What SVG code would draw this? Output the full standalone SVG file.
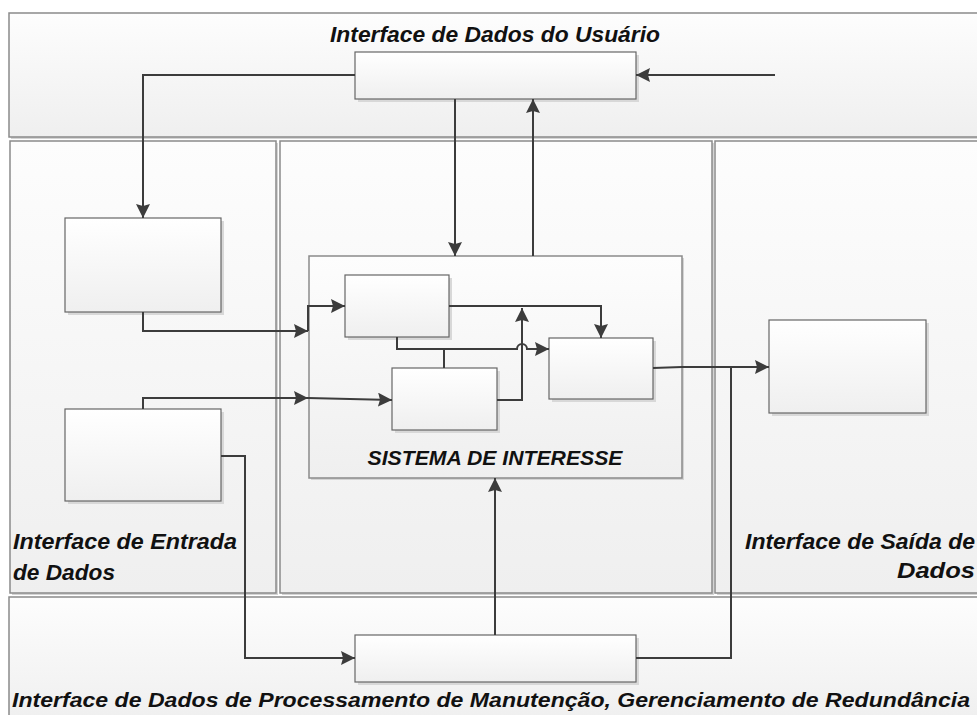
<svg xmlns="http://www.w3.org/2000/svg" width="977" height="715" viewBox="0 0 977 715">
<style>
.panel{stroke:#8a8a8a;stroke-width:1.5;fill:url(#pg)}
.pshadow{fill:#d4d4d4}
.box{stroke:#666;stroke-width:1.2;fill:url(#bg)}
.bshadow{fill:#d8d8d8}
.conn{fill:none;stroke:#3c3c3c;stroke-width:2}
.arr{marker-end:url(#ah)}
.lbl{font-family:"Liberation Sans",Arial,sans-serif;font-weight:bold;font-style:italic;font-size:22px;fill:#111}
</style>
<defs>
<linearGradient id="pg" x1="0" y1="0" x2="0" y2="1">
<stop offset="0" stop-color="#fdfdfd"/><stop offset="1" stop-color="#efefef"/>
</linearGradient>
<linearGradient id="bg" x1="0" y1="0" x2="0" y2="1">
<stop offset="0" stop-color="#ffffff"/><stop offset="1" stop-color="#efefef"/>
</linearGradient>
<marker id="ah" markerUnits="userSpaceOnUse" viewBox="0 0 14 14" markerWidth="14" markerHeight="14" refX="14" refY="7" orient="auto">
<path d="M0,0 L14,7 L0,14 L2,7 z" fill="#3c3c3c"/>
</marker>
</defs>
<rect width="977" height="715" fill="#ffffff"/>
<g id="panel-top">
<rect class="pshadow" x="11" y="15" width="980" height="124"/>
<rect class="panel" x="9" y="13" width="980" height="124"/>
<text class="lbl" x="495" y="42" text-anchor="middle" textLength="330" lengthAdjust="spacingAndGlyphs">Interface de Dados do Usuário</text>
</g>
<g id="panel-left">
<rect class="pshadow" x="12" y="143" width="266" height="452"/>
<rect class="panel" x="10" y="141" width="266" height="452"/>
<text class="lbl" x="13" y="549" textLength="224" lengthAdjust="spacingAndGlyphs">Interface de Entrada</text>
<text class="lbl" x="13" y="580" textLength="102" lengthAdjust="spacingAndGlyphs">de Dados</text>
</g>
<g id="panel-middle">
<rect class="pshadow" x="282" y="143" width="432" height="452"/>
<rect class="panel" x="280" y="141" width="432" height="452"/>
</g>
<g id="panel-right">
<rect class="pshadow" x="717" y="143" width="270" height="452"/>
<rect class="panel" x="715" y="141" width="270" height="452"/>
<text class="lbl" x="975" y="549" text-anchor="end" textLength="230" lengthAdjust="spacingAndGlyphs">Interface de Saída de</text>
<text class="lbl" x="975" y="578" text-anchor="end" textLength="78" lengthAdjust="spacingAndGlyphs">Dados</text>
</g>
<g id="panel-bottom">
<rect class="pshadow" x="11" y="599" width="980" height="125"/>
<rect class="panel" x="9" y="597" width="980" height="125"/>
<text class="lbl" x="491" y="707" text-anchor="middle" textLength="958" lengthAdjust="spacingAndGlyphs" style="font-size:21px">Interface de Dados de Processamento de Manutenção, Gerenciamento de Redundância</text>
</g>
<g id="sistema">
<rect class="pshadow" x="311" y="258" width="373" height="222"/>
<rect class="panel" x="309" y="256" width="373" height="222"/>
<text class="lbl" x="495" y="465" text-anchor="middle" textLength="255" lengthAdjust="spacingAndGlyphs" style="font-size:21px">SISTEMA DE INTERESSE</text>
</g>
<g id="box-top">
<rect class="bshadow" x="358" y="55" width="281" height="47"/>
<rect class="box" x="355" y="52" width="281" height="47"/>
</g>
<g id="box-left-top">
<rect class="bshadow" x="68" y="221" width="156" height="94"/>
<rect class="box" x="65" y="218" width="156" height="94"/>
</g>
<g id="box-left-bottom">
<rect class="bshadow" x="68" y="412" width="156" height="92"/>
<rect class="box" x="65" y="409" width="156" height="92"/>
</g>
<g id="box-a">
<rect class="bshadow" x="348" y="278" width="104" height="62"/>
<rect class="box" x="345" y="275" width="104" height="62"/>
</g>
<g id="box-b">
<rect class="bshadow" x="395" y="371" width="105" height="62"/>
<rect class="box" x="392" y="368" width="105" height="62"/>
</g>
<g id="box-c">
<rect class="bshadow" x="552" y="341" width="104" height="61"/>
<rect class="box" x="549" y="338" width="104" height="61"/>
</g>
<g id="box-right">
<rect class="bshadow" x="772" y="323" width="157" height="93"/>
<rect class="box" x="769" y="320" width="157" height="93"/>
</g>
<g id="box-bottom">
<rect class="bshadow" x="358" y="638" width="281" height="47"/>
<rect class="box" x="355" y="635" width="281" height="47"/>
</g>
<g id="connectors">
<path class="conn arr" d="M775,75 L636,75"/>
<path class="conn arr" d="M355,75 L143,75 L143,218"/>
<path class="conn arr" d="M455,99 L455,256"/>
<path class="conn arr" d="M533,256 L533,99"/>
<path class="conn arr" d="M143,312 L143,331 L308,331"/>
<path class="conn arr" d="M308,331 L308,306 L345,306"/>
<path class="conn arr" d="M143,409 L143,398 L308,398"/>
<path class="conn arr" d="M308,398 L392,400"/>
<path class="conn arr" d="M449,306 L601,306 L601,338"/>
<path class="conn arr" d="M397,337 L397,349 L517,349 A5,5 0 0 1 527,349 L549,349"/>
<path class="conn" d="M444,368 L444,349"/>
<path class="conn arr" d="M497,400 L522,400 L522,308"/>
<path class="conn arr" d="M653,368 L682,367 L769,367"/>
<path class="conn" d="M636,658 L731,658 L731,367"/>
<path class="conn arr" d="M221,456 L245,456 L245,658 L355,658"/>
<path class="conn arr" d="M495,635 L495,478"/>
</g>
</svg>
